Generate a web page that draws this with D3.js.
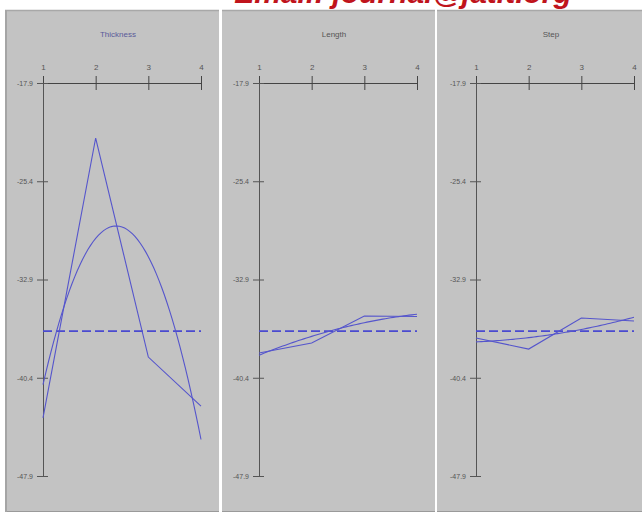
<!DOCTYPE html>
<html><head><meta charset="utf-8">
<script src="https://cdn.jsdelivr.net/npm/d3@7"></script>
<style>html,body{margin:0;padding:0;background:#fff;}svg{display:block;}</style>
</head><body>
<script>
const factors = ["Thickness", "Length", "Step"];
const levels = [1, 2, 3, 4];
const yTicks = [-17.9, -25.4, -32.9, -40.4, -47.9];
const thickness = [-43.47, -22.10, -38.82, -42.56];
const lengthVals = [-38.51, -37.75, -35.69, -35.72];
const stepVals = [-37.37, -38.21, -35.84, -36.07];
const series = [thickness, lengthVals, stepVals];
const titleColors = ["#5a5a9a", "#555", "#555"];

const W = 642, H = 514;
const svg = d3.select("body").append("svg").attr("width", W).attr("height", H);

const panels = [
  {x: 5, w: 214, ax: 43},
  {x: 222, w: 213, ax: 259},
  {x: 437, w: 205, ax: 476}
];
const panelTop = 10, panelBottom = 512;
const axTop = 83, axBottom = 476, axW = 158;

const y = d3.scaleLinear().domain([-17.9, -47.9]).range([axTop, axBottom]);
const grand = d3.mean(series.flat());

function quadFit(vals) {
  // least squares quadratic on x = 1..4 with orthogonal polynomials
  const p1 = [-3, -1, 1, 3], p2 = [1, -1, -1, 1];
  const m = d3.mean(vals);
  const b1 = d3.sum(vals.map((v, i) => v * p1[i])) / 20;
  const b2 = d3.sum(vals.map((v, i) => v * p2[i])) / 4;
  return t => m + b1 * (2 * (t - 2.5)) + b2 * ((t - 2.5) * (t - 2.5) - 1.25);
}

panels.forEach((p, k) => {
  const g = svg.append("g");
  g.append("rect").attr("x", p.x).attr("y", panelTop).attr("width", p.w).attr("height", panelBottom - panelTop)
    .attr("fill", "#c3c3c3");
  g.append("line").attr("x1", p.x).attr("x2", p.x + p.w).attr("y1", panelTop + 0.5).attr("y2", panelTop + 0.5)
    .attr("stroke", "#a8a8a8").attr("stroke-width", 1.5);
  g.append("line").attr("x1", p.x).attr("x2", p.x + p.w).attr("y1", panelBottom - 0.5).attr("y2", panelBottom - 0.5)
    .attr("stroke", "#9a9a9a").attr("stroke-width", 1);
  if (k === 0) g.append("line").attr("x1", p.x + 1).attr("x2", p.x + 1).attr("y1", panelTop).attr("y2", panelBottom)
    .attr("stroke", "#a5a5a5").attr("stroke-width", 2);

  const x = d3.scaleLinear().domain([1, 4]).range([p.ax, p.ax + axW]);

  g.append("text").attr("x", p.ax + axW / 2 - 4).attr("y", 37).attr("text-anchor", "middle")
    .attr("font-family", "Liberation Sans, Arial, sans-serif").attr("font-size", 8)
    .attr("fill", titleColors[k]).text(factors[k]);

  // x axis (top)
  const xa = g.append("g").attr("transform", `translate(0,${axTop})`)
    .call(d3.axisTop(x).tickValues(levels).tickFormat(d => String(d)).tickSize(7).tickSizeOuter(0));
  xa.select(".domain").attr("stroke", "#444");
  xa.selectAll(".tick line").attr("stroke", "#444").attr("y2", 7).attr("y1", -7);
  xa.selectAll(".tick text").attr("font-size", 8).attr("fill", "#555").attr("dy", "-3")
    .attr("font-family", "Liberation Sans, Arial, sans-serif");

  // y axis (left)
  const ya = g.append("g").attr("transform", `translate(${p.ax},0)`)
    .call(d3.axisLeft(y).tickValues(yTicks).tickFormat(d => d.toFixed(1)).tickSize(6).tickSizeOuter(0));
  ya.select(".domain").attr("stroke", "#555");
  ya.selectAll(".tick line").attr("stroke", "#555").attr("x1", 5).attr("x2", -6);
  ya.selectAll(".tick text").attr("font-size", 7).attr("fill", "#555").attr("dx", "-1")
    .attr("font-family", "Liberation Sans, Arial, sans-serif");

  // grand mean dashed line
  g.append("line").attr("x1", x(1)).attr("x2", x(4)).attr("y1", y(grand)).attr("y2", y(grand))
    .attr("stroke", "#4a4ad0").attr("stroke-width", 1.6).attr("stroke-dasharray", "9,4");

  const vals = series[k];
  // quadratic fit curve
  const f = quadFit(vals);
  const ts = d3.range(1, 4.0001, 0.05);
  g.append("path").datum(ts)
    .attr("d", d3.line().x(t => x(t)).y(t => y(f(t))))
    .attr("fill", "none").attr("stroke", "#5555cc").attr("stroke-width", 1.1);

  // data polyline
  g.append("path").datum(vals)
    .attr("d", d3.line().x((v, i) => x(levels[i])).y(v => y(v)))
    .attr("fill", "none").attr("stroke", "#5555cc").attr("stroke-width", 1.1);
});

// header text (cut off at top, as in the source)
svg.append("text").attr("x", 403).attr("y", 3).attr("text-anchor", "middle")
  .attr("font-family", "Liberation Sans, Arial, sans-serif").attr("font-size", 30)
  .attr("font-weight", "bold").attr("font-style", "italic").attr("fill", "#c0141c")
  .text("Email: journal@jatit.org");
</script>
</body></html>
